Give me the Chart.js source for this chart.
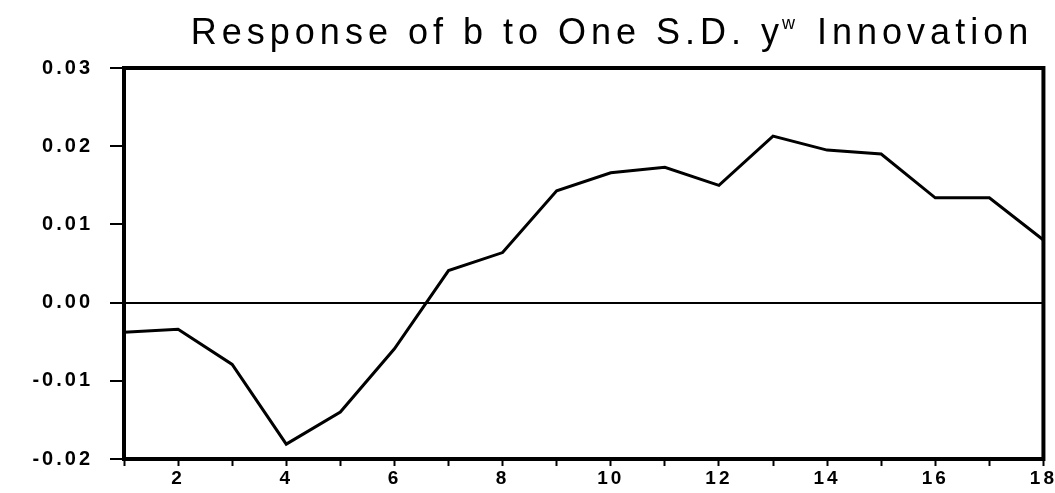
<!DOCTYPE html>
<html>
<head>
<meta charset="utf-8">
<script src="https://cdn.jsdelivr.net/npm/chart.js@4/dist/chart.umd.min.js"></script>
<style>
  html, body { margin: 0; padding: 0; background: #fff; }
  #wrap { width: 1055px; height: 493px; }
</style>
</head>
<body>
<div id="wrap"><canvas id="myChart" width="1055" height="493"></canvas></div>
<script>
// periods after the shock
const periods = [1, 2, 3, 4, 5, 6, 7, 8, 9, 10, 11, 12, 13, 14, 15, 16, 17, 18];
// response of b
const response = [-0.0038, -0.0034, -0.0079, -0.0181, -0.0140, -0.0059, 0.0041, 0.0064, 0.0143,
                  0.0166, 0.0173, 0.0150, 0.0213, 0.0195, 0.0190, 0.0134, 0.0134, 0.0080];
const yTicks = [-0.02, -0.01, 0.00, 0.01, 0.02, 0.03];
const titleParts = ['Response of b to One S.D. y', 'w', ' Innovation'];

const FONT = '"Liberation Sans", Arial, sans-serif';

// title with the superscript w, drawn by hand
const titlePlugin = {
    id: 'eviewsTitle',
    afterDraw(chart) {
        const ctx = chart.ctx;
        ctx.save();
        ctx.fillStyle = '#000';
        ctx.textBaseline = 'alphabetic';
        ctx.textAlign = 'left';
        ctx.letterSpacing = '5px';
        const big = '36px ' + FONT, small = '18px ' + FONT;
        ctx.font = big;
        const w0 = ctx.measureText(titleParts[0]).width;
        const w2 = ctx.measureText(titleParts[2]).width;
        ctx.font = small;
        const w1 = ctx.measureText(titleParts[1]).width;
        let x = 612 - (w0 + w1 + w2) / 2;
        const base = 44;
        ctx.font = big;
        ctx.fillText(titleParts[0], x, base);
        x += w0;
        ctx.font = small;
        ctx.fillText(titleParts[1], x - 2, base - 15);
        x += w1;
        ctx.font = big;
        ctx.fillText(titleParts[2], x, base);
        ctx.restore();
    }
};

// heavy frame around the plot + spaced-out tick text
const framePlugin = {
    id: 'frame',
    beforeDraw(chart) {
        chart.ctx.letterSpacing = '3px';
    },
    afterDatasetsDraw(chart) {
        const { ctx, chartArea: a } = chart;
        ctx.save();
        ctx.strokeStyle = '#000';
        ctx.lineWidth = 4;
        ctx.strokeRect(a.left, a.top, a.right - a.left, a.bottom - a.top);
        ctx.restore();
    },
    afterDraw(chart) {
        chart.ctx.letterSpacing = '0px';
    }
};

const ctx = document.getElementById('myChart').getContext('2d');

const myChart = new Chart(ctx, {
    type: 'line',
    data: {
        labels: periods,
        datasets: [{
            data: response,
            borderColor: '#000',
            borderWidth: 3,
            pointRadius: 0,
            tension: 0,
            fill: false
        }]
    },
    options: {
        responsive: false,
        animation: false,
        devicePixelRatio: 1,
        layout: { padding: { top: 68, right: 6, left: 0, bottom: 0 } },
        plugins: {
            legend: { display: false },
            tooltip: { enabled: false },
            title: { display: false }
        },
        scales: {
            x: {
                type: 'category',
                offset: false,
                afterFit: s => { s.height = 34; },
                border: { display: true, color: '#000', width: 4 },
                grid: {
                    drawOnChartArea: false,
                    drawTicks: true,
                    tickLength: 7,
                    tickColor: '#000',
                    tickWidth: 2
                },
                ticks: {
                    autoSkip: false,
                    maxRotation: 0,
                    padding: 1,
                    color: '#000',
                    font: { family: FONT, size: 19, weight: 'bold' },
                    callback: function (value, index) {
                        const p = periods[index];
                        return p % 2 === 0 ? String(p) : '';
                    }
                }
            },
            y: {
                min: yTicks[0],
                max: yTicks[yTicks.length - 1],
                afterFit: s => { s.width = 124; },
                afterBuildTicks: s => { s.ticks = yTicks.map(v => ({ value: v })); },
                border: { display: true, color: '#000', width: 4 },
                grid: {
                    drawOnChartArea: true,
                    drawTicks: true,
                    tickLength: 14,
                    tickColor: '#000',
                    tickWidth: 2,
                    lineWidth: ctx => (ctx.tick && ctx.tick.value === 0 ? 2 : 0),
                    color: ctx => (ctx.tick && ctx.tick.value === 0 ? '#000' : 'rgba(0,0,0,0)')
                },
                ticks: {
                    padding: 17,
                    color: '#000',
                    font: { family: FONT, size: 20, weight: 'bold' },
                    callback: v => Number(v).toFixed(2)
                }
            }
        }
    },
    plugins: [framePlugin, titlePlugin]
});
</script>
</body>
</html>
